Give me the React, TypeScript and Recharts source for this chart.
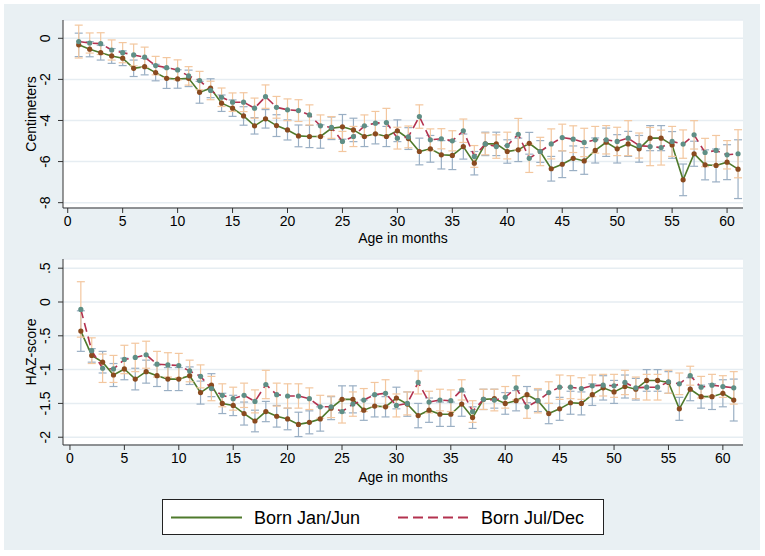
import { CartesianGrid, ComposedChart, ErrorBar, Line, XAxis, YAxis } from 'recharts';

const months = [
  1, 2, 3, 4, 5, 6, 7, 8, 9, 10, 11, 12, 13, 14, 15, 16, 17, 18, 19, 20,
  21, 22, 23, 24, 25, 26, 27, 28, 29, 30, 31, 32, 33, 34, 35, 36, 37, 38, 39, 40,
  41, 42, 43, 44, 45, 46, 47, 48, 49, 50, 51, 52, 53, 54, 55, 56, 57, 58, 59, 60, 61,
];

// height gap in centimeters
const cmJanJun = [
  -0.32, -0.53, -0.7, -0.86, -0.97, -1.46, -1.38, -1.67, -1.95, -1.98,
  -1.95, -2.63, -2.43, -3.16, -3.4, -3.78, -4.26, -3.92, -4.25, -4.46,
  -4.75, -4.78, -4.78, -4.38, -4.31, -4.46, -4.78, -4.65, -4.78, -4.5,
  -4.88, -5.51, -5.38, -5.67, -5.7, -5.27, -6.08, -5.14, -5.14, -5.51,
  -5.43, -5.11, -5.51, -6.35, -6.13, -5.84, -5.97, -5.46, -5.06, -5.38,
  -5.14, -5.38, -4.86, -4.86, -5.19, -6.89, -5.62, -6.16, -6.19, -6.03, -6.37,
];
const cmJanJunCI = [
  0.57, 0.37, 0.36, 0.36, 0.36, 0.4, 0.4, 0.4, 0.49, 0.45,
  0.4, 0.53, 0.46, 0.4, 0.4, 0.45, 0.4, 0.45, 0.53, 0.49,
  0.53, 0.54, 0.57, 0.55, 0.6, 0.57, 0.49, 0.49, 0.49, 0.53,
  0.53, 0.65, 0.65, 0.69, 0.69, 0.61, 0.57, 0.57, 0.57, 0.57,
  0.57, 0.53, 0.53, 0.6, 0.65, 0.6, 0.65, 0.61, 0.69, 0.69,
  0.61, 0.65, 0.61, 0.61, 0.65, 0.77, 0.61, 0.73, 0.8, 0.85, 1.43,
];
const cmJulDec = [
  -0.16, -0.23, -0.26, -0.57, -0.7, -0.81, -0.92, -1.33, -1.43, -1.54,
  -1.83, -2.06, -2.54, -2.87, -3.11, -3.11, -3.4, -2.84, -3.36, -3.48,
  -3.52, -3.73, -4.26, -4.34, -5.02, -4.78, -4.26, -4.13, -4.1, -4.86,
  -4.8, -3.81, -4.94, -4.89, -4.99, -4.5, -5.75, -5.14, -5.27, -5.22,
  -4.67, -5.84, -5.51, -5.14, -4.83, -4.91, -5.07, -4.94, -4.94, -5.02,
  -4.86, -5.22, -5.27, -5.32, -5.02, -5.15, -4.7, -5.56, -5.46, -5.67, -5.62,
];
const cmJulDecCI = [
  0.8, 0.49, 0.53, 0.49, 0.49, 0.53, 0.49, 0.45, 0.49, 0.49,
  0.45, 0.45, 0.45, 0.45, 0.45, 0.46, 0.49, 0.57, 0.53, 0.53,
  0.53, 0.49, 0.53, 0.53, 0.49, 0.49, 0.53, 0.57, 0.69, 0.53,
  0.53, 0.57, 0.53, 0.49, 0.49, 0.57, 0.53, 0.53, 0.57, 0.65,
  0.77, 0.69, 0.69, 0.73, 0.65, 0.65, 0.69, 0.65, 0.69, 0.69,
  0.85, 0.61, 0.93, 0.85, 0.73, 0.69, 0.69, 0.69, 0.73, 0.69, 1.17,
];

// height-for-age z-score
const hazJanJun = [
  -0.43, -0.79, -0.89, -1.08, -0.99, -1.14, -1.03, -1.09, -1.14, -1.14,
  -1.09, -1.34, -1.23, -1.5, -1.53, -1.65, -1.76, -1.62, -1.69, -1.73,
  -1.81, -1.78, -1.73, -1.57, -1.44, -1.44, -1.6, -1.54, -1.55, -1.42,
  -1.51, -1.68, -1.6, -1.66, -1.66, -1.51, -1.71, -1.44, -1.43, -1.5,
  -1.46, -1.37, -1.46, -1.65, -1.58, -1.49, -1.5, -1.37, -1.27, -1.33,
  -1.25, -1.29, -1.16, -1.16, -1.19, -1.58, -1.29, -1.4, -1.4, -1.35, -1.45,
];
const hazJanJunCI = [
  0.3, 0.1, 0.16, 0.17, 0.16, 0.16, 0.17, 0.16, 0.17, 0.17,
  0.13, 0.17, 0.17, 0.15, 0.15, 0.17, 0.16, 0.15, 0.16, 0.16,
  0.18, 0.17, 0.18, 0.17, 0.2, 0.2, 0.15, 0.16, 0.15, 0.16,
  0.18, 0.18, 0.18, 0.18, 0.18, 0.18, 0.16, 0.15, 0.14, 0.16,
  0.15, 0.12, 0.16, 0.15, 0.17, 0.17, 0.17, 0.16, 0.18, 0.17,
  0.17, 0.16, 0.16, 0.16, 0.16, 0.17, 0.17, 0.17, 0.19, 0.2, 0.31,
];
const hazJulDec = [
  -0.11, -0.72, -0.98, -0.99, -0.85, -0.82, -0.78, -0.92, -0.93, -0.94,
  -1.02, -1.1, -1.28, -1.38, -1.43, -1.38, -1.47, -1.22, -1.37, -1.39,
  -1.39, -1.43, -1.55, -1.55, -1.62, -1.51, -1.45, -1.37, -1.35, -1.53,
  -1.5, -1.19, -1.48, -1.45, -1.46, -1.3, -1.62, -1.44, -1.45, -1.41,
  -1.27, -1.55, -1.46, -1.34, -1.26, -1.26, -1.28, -1.24, -1.23, -1.24,
  -1.19, -1.27, -1.26, -1.26, -1.18, -1.21, -1.09, -1.26, -1.23, -1.25, -1.27,
];
const hazJulDecCI = [
  0.41, 0.19, 0.21, 0.2, 0.21, 0.21, 0.2, 0.19, 0.18, 0.18,
  0.16, 0.17, 0.18, 0.17, 0.17, 0.18, 0.17, 0.21, 0.17, 0.18,
  0.18, 0.16, 0.17, 0.16, 0.17, 0.18, 0.17, 0.18, 0.2, 0.17,
  0.17, 0.17, 0.16, 0.16, 0.16, 0.15, 0.16, 0.15, 0.16, 0.16,
  0.18, 0.17, 0.18, 0.16, 0.18, 0.17, 0.16, 0.16, 0.16, 0.17,
  0.18, 0.16, 0.19, 0.19, 0.17, 0.16, 0.14, 0.16, 0.16, 0.16, 0.24,
];

const xTicks = [0, 5, 10, 15, 20, 25, 30, 35, 40, 45, 50, 55, 60];
const cmTicks = [0, -2, -4, -6, -8];
const hazTicks = [0.5, 0, -0.5, -1, -1.5, -2];

const FONT = '"Liberation Sans", Arial, Helvetica, sans-serif';
const BG = '#e9f0f3';
const GRID = '#e6edf2';
const AXIS = '#333';
const GREEN = '#4f7a2c';
const GREEN_DOT = '#8a4a1f';
const GREEN_CI = '#9aafc4';
const RED = '#b3324f';
const RED_DOT = '#5f8f86';
const RED_CI = '#f3c79f';

const fmt = (v: number) => String(v).replace('0.', '.');

const rows = (a: number[], aCI: number[], b: number[], bCI: number[]) =>
  months.map((m, i) => ({ month: m, jan: a[i], janCI: aCI[i], jul: b[i], julCI: bCI[i] }));

const YTick = (props: any) => {
  const { x, y, payload } = props;
  const bx = x - 6;
  return (
    <text
      x={bx}
      y={y}
      transform={`rotate(-90 ${bx} ${y})`}
      textAnchor="middle"
      fontSize={14}
      fontFamily={FONT}
      fill="#000"
    >
      {fmt(payload.value)}
    </text>
  );
};

interface PanelProps {
  data: ReturnType<typeof rows>;
  top: number;
  height: number;
  marginTop: number;
  marginBottom: number;
  yDomain: [number, number];
  xDomain: [number, number];
  yTicks: number[];
  yTitle: string;
  yTitleY: number;
  xTitleY: number;
}

const Panel = (p: PanelProps) => (
  <div style={{ position: 'absolute', left: 0, top: p.top }}>
    <ComposedChart
      width={765}
      height={p.height}
      data={p.data}
      margin={{ top: p.marginTop, right: 22, bottom: p.marginBottom, left: 0 }}
    >
      <CartesianGrid vertical={false} fill="#fff" stroke={GRID} strokeWidth={1.5} />
      <XAxis
        type="number"
        dataKey="month"
        domain={p.xDomain}
        ticks={xTicks}
        allowDataOverflow
        height={40}
        tickSize={5}
        tickMargin={3}
        stroke={AXIS}
        tick={{ fill: '#000', fontSize: 14, fontFamily: FONT }}
        label={() => (
          <text x={403} y={p.xTitleY} textAnchor="middle" fontSize={14} fontFamily={FONT} fill="#000">
            Age in months
          </text>
        )}
      />
      <YAxis
        type="number"
        domain={p.yDomain}
        ticks={p.yTicks}
        allowDataOverflow
        width={63}
        tickSize={5}
        tickMargin={2}
        stroke={AXIS}
        tick={<YTick />}
        label={() => (
          <text
            x={36}
            y={p.yTitleY}
            transform={`rotate(-90 36 ${p.yTitleY})`}
            textAnchor="middle"
            fontSize={14}
            fontFamily={FONT}
            fill="#000"
          >
            {p.yTitle}
          </text>
        )}
      />
      <Line
        dataKey="jan"
        name="Born Jan/Jun"
        stroke={GREEN}
        strokeWidth={1.6}
        dot={{ r: 2.6, fill: GREEN_DOT, stroke: 'none' }}
        activeDot={false}
        isAnimationActive={false}
      >
        <ErrorBar dataKey="janCI" width={4} stroke={GREEN_CI} strokeWidth={1.2} direction="y" />
      </Line>
      <Line
        dataKey="jul"
        name="Born Jul/Dec"
        stroke={RED}
        strokeWidth={1.6}
        strokeDasharray="9 5"
        dot={{ r: 2.6, fill: RED_DOT, stroke: 'none' }}
        activeDot={false}
        isAnimationActive={false}
      >
        <ErrorBar dataKey="julCI" width={4} stroke={RED_CI} strokeWidth={1.2} direction="y" />
      </Line>
    </ComposedChart>
  </div>
);

const LegendBox = () => (
  <div
    style={{
      position: 'absolute',
      left: 162,
      top: 499,
      width: 440,
      height: 34,
      background: '#fff',
      border: '1px solid #222',
      fontFamily: FONT,
      fontSize: 18,
      color: '#000',
    }}
  >
    <svg width={440} height={34} style={{ position: 'absolute', left: 0, top: 0 }}>
      <line x1={8} x2={79} y1={17.5} y2={17.5} stroke={GREEN} strokeWidth={1.8} />
      <line x1={235} x2={306} y1={17.5} y2={17.5} stroke={RED} strokeWidth={1.8} strokeDasharray="10 5" />
      <text x={91} y={24} fontSize={18} fontFamily={FONT} fill="#000">Born Jan/Jun</text>
      <text x={318} y={24} fontSize={18} fontFamily={FONT} fill="#000">Born Jul/Dec</text>
    </svg>
  </div>
);

export default function App() {
  return (
    <div style={{ position: 'absolute', left: 0, top: 0, width: 765, height: 556, background: '#fff', overflow: 'hidden' }}>
      <div style={{ position: 'absolute', left: 4, top: 4, width: 756, height: 546, background: BG }} />
      <Panel
        data={rows(cmJanJun, cmJanJunCI, cmJulDec, cmJulDecCI)}
        top={0}
        height={252}
        marginTop={20}
        marginBottom={4}
        yDomain={[-8.26, 0.89]}
        xDomain={[-0.43, 61.45]}
        yTicks={cmTicks}
        yTitle="Centimeters"
        yTitleY={114}
        xTitleY={243}
      />
      <Panel
        data={rows(hazJanJun, hazJanJunCI, hazJulDec, hazJulDecCI)}
        top={252}
        height={248}
        marginTop={7}
        marginBottom={15}
        yDomain={[-2.115, 0.636]}
        xDomain={[-0.64, 61.85]}
        yTicks={hazTicks}
        yTitle="HAZ-score"
        yTitleY={100}
        xTitleY={230}
      />
      <LegendBox />
    </div>
  );
}
